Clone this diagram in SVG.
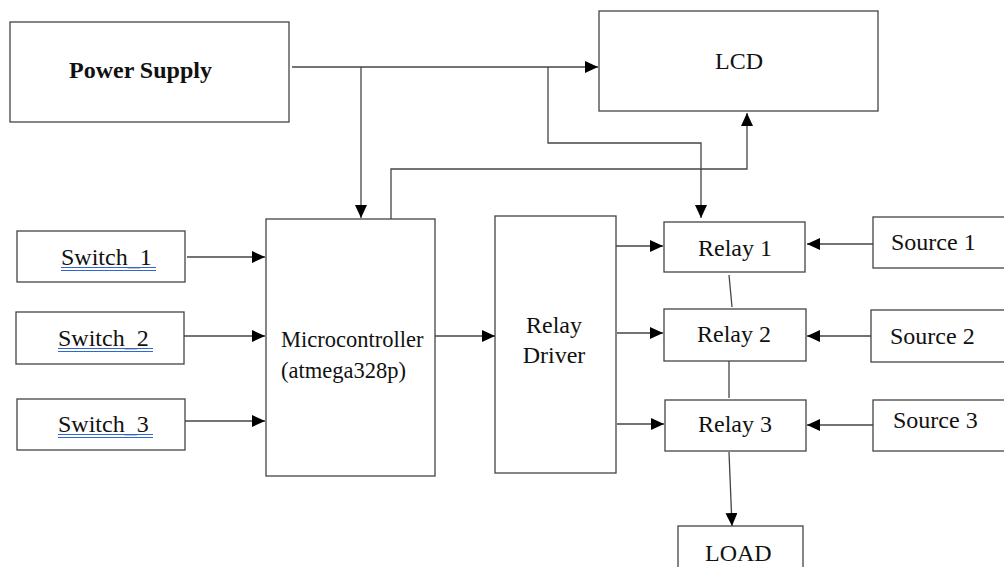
<svg xmlns="http://www.w3.org/2000/svg" width="1004" height="567" viewBox="0 0 1004 567">
<defs>
<marker id="arr" markerUnits="userSpaceOnUse" markerWidth="14" markerHeight="12" refX="13" refY="6" orient="auto"><path d="M0,0 L13,6 L0,12 z" fill="#000"/></marker>
<style>
.box{fill:#fff;stroke:#444;stroke-width:1.3}
.t{font-family:'Liberation Serif','Tinos','Times New Roman','DejaVu Serif',serif;font-size:24px;fill:#111}
.b{font-weight:bold}
.s{font-size:22.5px}
.c{fill:none;stroke:#444;stroke-width:1.3}
.a{marker-end:url(#arr)}
.u{stroke:#2f66d0;stroke-width:1.2}
</style>
</defs>
<rect width="1004" height="567" fill="#fff"/>
<g id="connectors">
<path class="c a" d="M292,67 H598"/>
<path class="c a" d="M361,67 V218"/>
<path class="c a" d="M548,67 V143 H701 V218"/>
<path class="c a" d="M391,219 V169 H747 V113"/>
<path class="c a" d="M187,257 H265"/>
<path class="c a" d="M184,336 H265"/>
<path class="c a" d="M185,421 H265"/>
<path class="c a" d="M435,336 H495"/>
<path class="c a" d="M616,246 H663"/>
<path class="c a" d="M617,333 H663"/>
<path class="c a" d="M617,424 H664"/>
<path class="c a" d="M873,244 H807"/>
<path class="c a" d="M871,336 H807"/>
<path class="c a" d="M873,425 H807"/>
<path class="c" d="M729,275 L732,307"/>
<path class="c" d="M729,361 V398"/>
<path class="c a" d="M729,452 L732,526"/>
</g>
<g id="power-supply"><rect class="box" x="10" y="22" width="279" height="100"/><text class="t b" font-family="Liberation Serif, serif" x="69" y="78">Power Supply</text></g>
<g id="lcd"><rect class="box" x="599" y="11" width="279" height="100"/><text class="t" font-family="Liberation Serif, serif" x="715" y="69">LCD</text></g>
<g id="switch1"><rect class="box" x="17" y="231" width="168" height="51"/><text class="t" x="61" y="265">Switch_1</text><path class="u" d="M61,267.5 H156 M61,270.5 H156"/></g>
<g id="switch2"><rect class="box" x="16" y="312" width="168" height="52"/><text class="t" x="58" y="346">Switch_2</text><path class="u" d="M58,348.5 H153 M58,351.5 H153"/></g>
<g id="switch3"><rect class="box" x="17" y="399" width="168" height="51"/><text class="t" x="58" y="432">Switch_3</text><path class="u" d="M58,434.5 H153 M58,437.5 H153"/></g>
<g id="microcontroller"><rect class="box" x="266" y="219" width="169" height="257"/><text class="t s" x="281" y="347">Microcontroller</text><text class="t s" x="281" y="378">(atmega328p)</text></g>
<g id="relay-driver"><rect class="box" x="495" y="216" width="121" height="257"/><text class="t" x="554" y="333" text-anchor="middle">Relay</text><text class="t" x="554" y="363" text-anchor="middle">Driver</text></g>
<g id="relay1"><rect class="box" x="664" y="222" width="141" height="50"/><text class="t" x="698" y="256">Relay 1</text></g>
<g id="relay2"><rect class="box" x="664" y="309" width="142" height="52"/><text class="t" x="697" y="342">Relay 2</text></g>
<g id="relay3"><rect class="box" x="665" y="400" width="141" height="51"/><text class="t" x="698" y="432">Relay 3</text></g>
<g id="source1"><rect class="box" x="873" y="217" width="140" height="51"/><text class="t" x="891" y="250">Source 1</text></g>
<g id="source2"><rect class="box" x="871" y="310" width="142" height="52"/><text class="t" x="890" y="344">Source 2</text></g>
<g id="source3"><rect class="box" x="873" y="400" width="140" height="51"/><text class="t" x="893" y="428">Source 3</text></g>
<g id="load"><rect class="box" x="678" y="526" width="125" height="50"/><text class="t" x="705" y="561">LOAD</text></g>
</svg>
